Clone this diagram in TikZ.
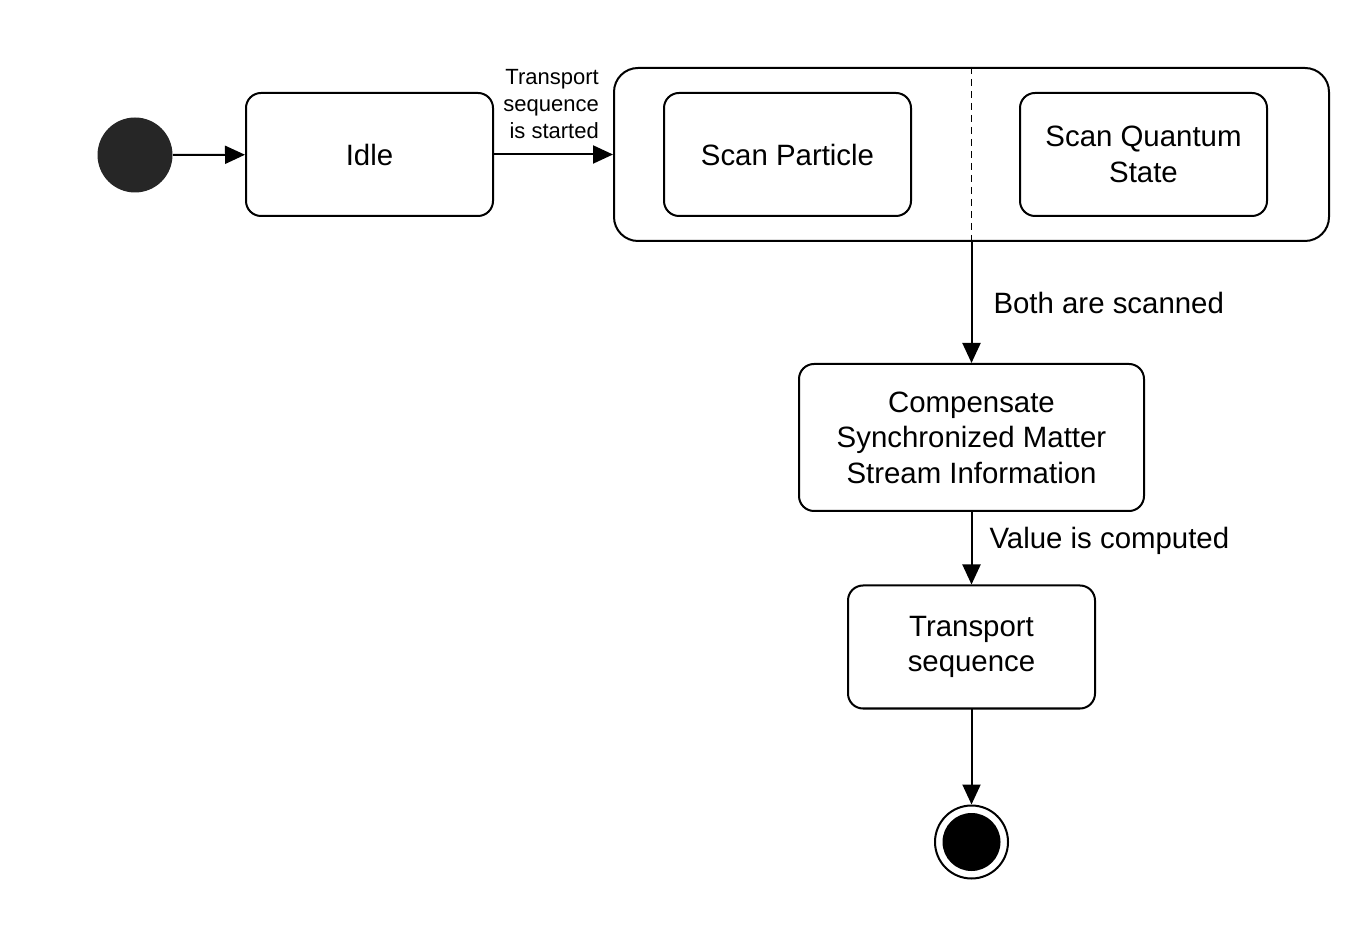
\documentclass[tikz,border=0pt]{standalone}
\usepackage{fontspec}
\setmainfont{Liberation Sans}
\usetikzlibrary{arrows.meta}

\tikzset{
  state/.style={draw, line width=1pt, rounded corners=7.5pt, align=center,
    minimum width=123.5pt, minimum height=61.5pt, font=\fontsize{14.7}{17.7}\selectfont},
  flow/.style={line width=1pt, -{Triangle[length=10pt,width=9pt]}},
  guard/.style={inner sep=0pt, font=\fontsize{14.7}{17.7}\selectfont},
}

\begin{document}
\begin{tikzpicture}[x=0.5pt,y=-0.5pt]
\useasboundingbox (0,0) rectangle (1370,929);
\node [circle, fill=black!85, minimum size=37.5pt, inner sep=0pt] (init) at (135,155) {};
\node [state] (idle) at (369.5,154.5) {Idle};
\node [draw, line width=1pt, rounded corners=12pt, minimum width=357.5pt, minimum height=86.5pt] (scan) at (971.5,154.5) {};
\node [state] (part) at (787.5,154.5) {Scan Particle};
\node [state] (quant) at (1143.5,154.5) {Scan Quantum\\State};
\draw [line width=0.8pt, dash pattern=on 3.5pt off 2.5pt] (scan.north) -- (scan.south);
\node [state, minimum width=172.5pt, minimum height=73.5pt] (comp) at (971.5,437.5) {Compensate\\Synchronized Matter\\Stream Information};
\node [state] (trans) at (971.5,647) {Transport\\sequence};
\node [circle, draw, line width=1pt, minimum size=36.5pt, inner sep=0pt] (final) at (971.5,842) {};
\fill (final.center) circle (14.5pt);
% transitions
\draw [flow] (init) -- (idle);
\draw [flow] (idle) -- node [above=4pt, xshift=-1.2pt, align=right, font=\fontsize{11}{13.5}\selectfont] {Transport\\sequence\\is started} (scan);
\draw [flow] (scan) -- node [guard, right=10.5pt] {Both are scanned} (comp);
\draw [flow] (comp) -- node [guard, right=8.5pt, yshift=3.5pt] {Value is computed} (trans);
\draw [flow] (trans) -- (final);
\end{tikzpicture}
\end{document}
